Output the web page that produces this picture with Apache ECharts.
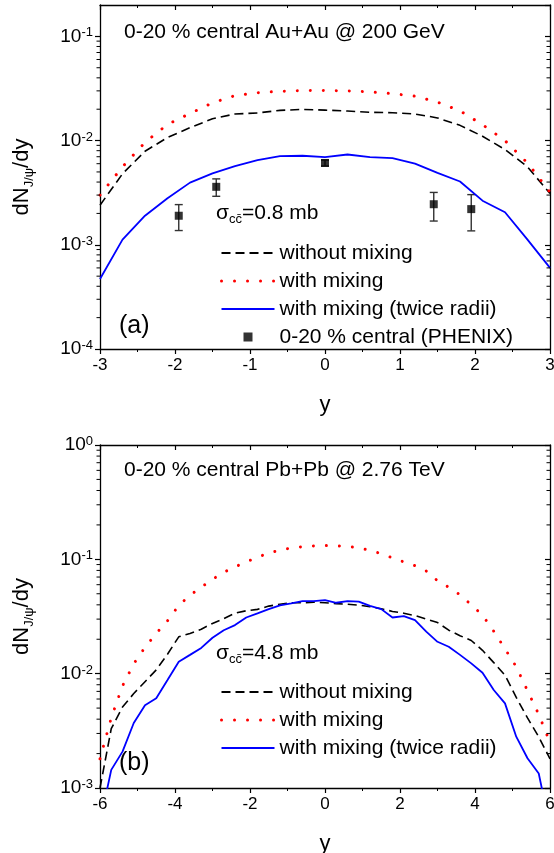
<!DOCTYPE html>
<html>
<head>
<meta charset="utf-8">
<script src="https://cdn.jsdelivr.net/npm/echarts@6/dist/echarts.min.js"></script>
<style>
html,body{margin:0;padding:0;background:#fff}
#main{width:554px;height:853px}
</style>
</head>
<body>
<div id="main"></div>
<script>
// panel (a): Au+Au 200 GeV
var rapA = [-3,-2.7,-2.4,-2.1,-1.8,-1.5,-1.2,-0.9,-0.6,-0.3,0,0.3,0.6,0.9,1.2,1.5,1.8,2.1,2.4,2.7,3];
var noMixA = [2.4e-3,4.8e-3,7.9e-3,1.07e-2,1.33e-2,1.62e-2,1.8e-2,1.84e-2,1.95e-2,1.99e-2,1.96e-2,1.92e-2,1.87e-2,1.85e-2,1.8e-2,1.65e-2,1.4e-2,1.1e-2,8.2e-3,5.6e-3,3.1e-3];
var mixA = [3.0e-3,5.6e-3,9.6e-3,1.43e-2,1.82e-2,2.3e-2,2.7e-2,2.88e-2,2.97e-2,3.02e-2,3.03e-2,3.0e-2,2.93e-2,2.82e-2,2.67e-2,2.34e-2,1.93e-2,1.42e-2,1.0e-2,6.1e-3,3.2e-3];
var twiceA = [4.7e-4,1.12e-3,1.9e-3,2.8e-3,3.95e-3,4.85e-3,5.7e-3,6.5e-3,7.1e-3,7.15e-3,6.95e-3,7.35e-3,6.95e-3,6.8e-3,6.0e-3,4.9e-3,4.05e-3,2.65e-3,2.05e-3,1.12e-3,6.0e-4];
// PHENIX 0-20 % central
var phxY = [-1.95,-1.45,0,1.45,1.95];
var phxVal = [1.9e-3,3.6e-3,6.1e-3,2.45e-3,2.2e-3];
var phxLo = [1.37e-3,2.92e-3,5.7e-3,1.69e-3,1.36e-3];
var phxHi = [2.43e-3,4.29e-3,6.5e-3,3.18e-3,3.03e-3];

// panel (b): Pb+Pb 2.76 TeV
var rapB = [-6,-5.7,-5.4,-5.1,-4.8,-4.5,-4.2,-3.9,-3.6,-3.3,-3,-2.7,-2.4,-2.1,-1.8,-1.5,-1.2,-0.9,-0.6,-0.3,0,
            0.3,0.6,0.9,1.2,1.5,1.8,2.1,2.4,2.7,3,3.3,3.6,3.9,4.2,4.5,4.8,5.1,5.4,5.7,6];
var noMixB = [1.0e-3,3.3e-3,5.1e-3,6.7e-3,8.5e-3,1.08e-2,1.48e-2,2.1e-2,2.25e-2,2.45e-2,2.75e-2,3.03e-2,3.38e-2,3.55e-2,3.65e-2,3.9e-2,4.05e-2,4.17e-2,4.17e-2,4.22e-2,4.17e-2,
              4.1e-2,4.05e-2,3.98e-2,3.85e-2,3.7e-2,3.5e-2,3.38e-2,3.22e-2,3.0e-2,2.8e-2,2.4e-2,2.15e-2,1.95e-2,1.6e-2,1.25e-2,9.7e-3,6.2e-3,4.1e-3,2.8e-3,1.8e-3];
var mixB = [1.8e-3,4.1e-3,7.8e-3,1.22e-2,1.7e-2,2.25e-2,2.9e-2,3.95e-2,4.85e-2,5.7e-2,6.7e-2,7.7e-2,8.6e-2,9.5e-2,0.104,0.114,0.12,0.126,0.129,0.131,0.132,
            0.131,0.13,0.126,0.12,0.112,0.103,9.5e-2,8.8e-2,7.9e-2,6.5e-2,5.7e-2,4.9e-2,4.0e-2,3.25e-2,2.35e-2,1.65e-2,1.15e-2,7.1e-3,4.4e-3,2.5e-3];
var twiceB = [5e-4,1.44e-3,2.08e-3,3.7e-3,5.3e-3,6.1e-3,8.8e-3,1.27e-2,1.46e-2,1.68e-2,2.06e-2,2.4e-2,2.66e-2,3.1e-2,3.37e-2,3.67e-2,3.95e-2,4.11e-2,4.31e-2,4.31e-2,4.4e-2,
              4.17e-2,4.31e-2,4.27e-2,3.91e-2,3.67e-2,3.1e-2,3.19e-2,2.94e-2,2.33e-2,1.9e-2,1.72e-2,1.46e-2,1.23e-2,1.02e-2,7.2e-3,5.5e-3,2.81e-3,1.82e-3,1.34e-3,4.5e-4];

// minor ticks of the log axes
var minorA = [2e-4,3e-4,4e-4,5e-4,6e-4,7e-4,8e-4,9e-4,2e-3,3e-3,4e-3,5e-3,6e-3,7e-3,8e-3,9e-3,2e-2,3e-2,4e-2,5e-2,6e-2,7e-2,8e-2,9e-2];
var minorB = [2e-3,3e-3,4e-3,5e-3,6e-3,7e-3,8e-3,9e-3,2e-2,3e-2,4e-2,5e-2,6e-2,7e-2,8e-2,9e-2,0.2,0.3,0.4,0.5,0.6,0.7,0.8,0.9];

var FONT = '"Liberation Sans", Arial, sans-serif';
var NAME1 = 'without mixing', NAME2 = 'with mixing', NAME3 = 'with mixing (twice radii)', NAME4 = '0-20 % central (PHENIX)';
var DOTS = {color: '#ff0000', width: 3, type: [0.01, 13], cap: 'round'};

function pairs(xs, ys) {
    var out = [];
    for (var i = 0; i < xs.length; i++) out.push([xs[i], ys[i]]);
    return out;
}

function powLabel(v) {
    var e = Math.log10(v);
    if (Math.abs(e - Math.round(e)) > 1e-6) return '';
    return '{b|10}{s|' + Math.round(e) + '}';
}

function xAxes(grid, min, max, step) {
    return [{
        type: 'value', gridIndex: grid, position: 'bottom', min: min, max: max, interval: step,
        name: 'y', nameLocation: 'middle', nameGap: 45,
        nameTextStyle: {fontSize: 22, color: '#000', fontFamily: FONT},
        axisLine: {onZero: false, lineStyle: {color: '#000', width: 1.3}},
        axisTick: {inside: false, length: 5, lineStyle: {color: '#000', width: 1.2}},
        minorTick: {show: true, splitNumber: 2, length: 3, lineStyle: {color: '#000', width: 1}},
        axisLabel: {fontSize: 17, color: '#000', fontFamily: FONT, margin: 8},
        splitLine: {show: false}
    }, {
        type: 'value', gridIndex: grid, position: 'top', min: min, max: max, interval: step,
        axisLine: {onZero: false, lineStyle: {color: '#000', width: 1.3}},
        axisTick: {inside: true, length: 5, lineStyle: {color: '#000', width: 1.2}},
        minorTick: {show: true, splitNumber: 2, length: 3, lineStyle: {color: '#000', width: 1}},
        axisLabel: {show: false},
        splitLine: {show: false}
    }];
}

function yAxes(grid, min, max) {
    return [{
        type: 'log', logBase: 10, gridIndex: grid, position: 'left', min: min, max: max,
        name: '{m|dN}{s|J/ψ}{m|/dy}', nameLocation: 'middle', nameGap: 64, nameRotate: 90,
        nameTextStyle: {color: '#000', fontFamily: FONT, rich: {
            m: {fontSize: 22, lineHeight: 28, fontFamily: FONT, color: '#000'},
            s: {fontSize: 13, lineHeight: 13, verticalAlign: 'bottom', fontFamily: FONT, color: '#000'}
        }},
        axisLine: {onZero: false, lineStyle: {color: '#000', width: 1.3}},
        axisTick: {inside: false, length: 5, lineStyle: {color: '#000', width: 1.2}},
        axisLabel: {margin: 7, fontSize: 19, formatter: powLabel, showMaxLabel: max === 1, rich: {
            b: {fontSize: 19, lineHeight: 20, fontFamily: FONT, color: '#000'},
            s: {fontSize: 13, lineHeight: 13, verticalAlign: 'top', fontFamily: FONT, color: '#000'}
        }},
        splitLine: {show: false}
    }, {
        type: 'log', logBase: 10, gridIndex: grid, position: 'right', min: min, max: max,
        axisLine: {onZero: false, lineStyle: {color: '#000', width: 1.3}},
        axisTick: {inside: true, length: 5, lineStyle: {color: '#000', width: 1.2}},
        axisLabel: {show: false},
        splitLine: {show: false}
    }];
}

function minorSeries(xi, yi, vals) {
    return {
        type: 'custom', xAxisIndex: xi, yAxisIndex: yi, silent: true, z: 5, clip: false,
        data: vals.map(function (v) { return [0, v]; }),
        renderItem: function (params, api) {
            var cs = params.coordSys;
            var y = api.coord([0, api.value(1)])[1];
            return {type: 'group', children: [
                {type: 'line', shape: {x1: cs.x - 3.5, y1: y, x2: cs.x, y2: y}, style: {stroke: '#000', lineWidth: 1}},
                {type: 'line', shape: {x1: cs.x + cs.width - 3.5, y1: y, x2: cs.x + cs.width, y2: y}, style: {stroke: '#000', lineWidth: 1}}
            ]};
        }
    };
}

function curves(xi, yi, xs, a, b, c) {
    return [{
        name: NAME1, type: 'line', xAxisIndex: xi, yAxisIndex: yi, data: pairs(xs, a),
        symbol: 'none', smooth: false, clip: true,
        lineStyle: {color: '#000', width: 1.6, type: [9, 5]}, itemStyle: {color: '#000'}
    }, {
        name: NAME2, type: 'line', xAxisIndex: xi, yAxisIndex: yi, data: pairs(xs, b),
        symbol: 'none', smooth: false, clip: true,
        lineStyle: DOTS, itemStyle: {color: '#ff0000'}
    }, {
        name: NAME3, type: 'line', xAxisIndex: xi, yAxisIndex: yi, data: pairs(xs, c),
        symbol: 'none', smooth: false, clip: true,
        lineStyle: {color: '#0000ff', width: 1.8, type: 'solid'}, itemStyle: {color: '#0000ff'}
    }];
}

function legendBox(top, names) {
    return {
        orient: 'vertical', left: 215, top: top, itemWidth: 53, itemHeight: 9, itemGap: 0,
        selectedMode: false,
        data: names.map(function (n) {
            if (n === NAME4) return {name: n, icon: 'path://M0,0L1,0L1,1L0,1Z'};
            if (n === NAME2) return {name: n, itemStyle: {opacity: 0}, lineStyle: DOTS};
            return {name: n, itemStyle: {opacity: 0}};
        }),
        textStyle: {fontSize: 21, lineHeight: 28, color: '#000', fontFamily: FONT}
    };
}

function txt(x, y, content, size) {
    return {type: 'text', x: x, y: y, style: {text: content, fontSize: size, fontFamily: FONT, fill: '#000', verticalAlign: 'middle'}};
}

function sigmaText(x, y, value) {
    return {type: 'text', x: x, y: y, style: {
        text: '{m|σ}{s|cc\u0304}{m|=' + value + ' mb}', verticalAlign: 'middle',
        rich: {
            m: {fontSize: 21, lineHeight: 26, fontFamily: FONT, fill: '#000'},
            s: {fontSize: 13, lineHeight: 13, verticalAlign: 'bottom', fontFamily: FONT, fill: '#000'}
        }
    }};
}

var myChart = echarts.init(document.getElementById('main'));

var series = []
    .concat(curves(0, 0, rapA, noMixA, mixA, twiceA))
    .concat([{
        type: 'custom', xAxisIndex: 0, yAxisIndex: 0, silent: true, z: 3,
        data: phxY.map(function (y, i) { return [y, phxVal[i], phxLo[i], phxHi[i]]; }),
        encode: {x: 0, y: 1},
        renderItem: function (params, api) {
            var x = api.value(0);
            var lo = api.coord([x, api.value(2)]);
            var hi = api.coord([x, api.value(3)]);
            var st = {stroke: '#333', lineWidth: 1.4};
            return {type: 'group', children: [
                {type: 'line', shape: {x1: lo[0], y1: lo[1], x2: hi[0], y2: hi[1]}, style: st},
                {type: 'line', shape: {x1: lo[0] - 4, y1: lo[1], x2: lo[0] + 4, y2: lo[1]}, style: st},
                {type: 'line', shape: {x1: hi[0] - 4, y1: hi[1], x2: hi[0] + 4, y2: hi[1]}, style: st}
            ]};
        }
    }, {
        name: NAME4, type: 'scatter', xAxisIndex: 0, yAxisIndex: 0, z: 4,
        symbol: 'rect', symbolSize: 8, itemStyle: {color: '#000'},
        data: pairs(phxY, phxVal)
    }])
    .concat(curves(2, 2, rapB, noMixB, mixB, twiceB))
    .concat([minorSeries(0, 0, minorA), minorSeries(2, 2, minorB)]);

var option = {
    animation: false,
    backgroundColor: '#fff',
    textStyle: {fontFamily: FONT},
    grid: [
        {left: 100, top: 5, width: 450, height: 344, outerBoundsMode: 'none'},
        {left: 100, top: 445, width: 450, height: 343, outerBoundsMode: 'none'}
    ],
    xAxis: xAxes(0, -3, 3, 1).concat(xAxes(1, -6, 6, 2)),
    yAxis: yAxes(0, 1e-4, 0.2).concat(yAxes(1, 1e-3, 1)),
    legend: [
        legendBox(234, [NAME1, NAME2, NAME3, NAME4]),
        legendBox(673, [NAME1, NAME2, NAME3])
    ],
    graphic: [
        txt(124, 32, '0-20 % central Au+Au @ 200 GeV', 21),
        txt(124, 470, '0-20 % central Pb+Pb @ 2.76 TeV', 21),
        txt(119, 326, '(a)', 25),
        txt(119, 763, '(b)', 25),
        sigmaText(216, 213, '0.8'),
        sigmaText(216, 653, '4.8')
    ],
    series: series
};

myChart.setOption(option);
</script>
</body>
</html>
